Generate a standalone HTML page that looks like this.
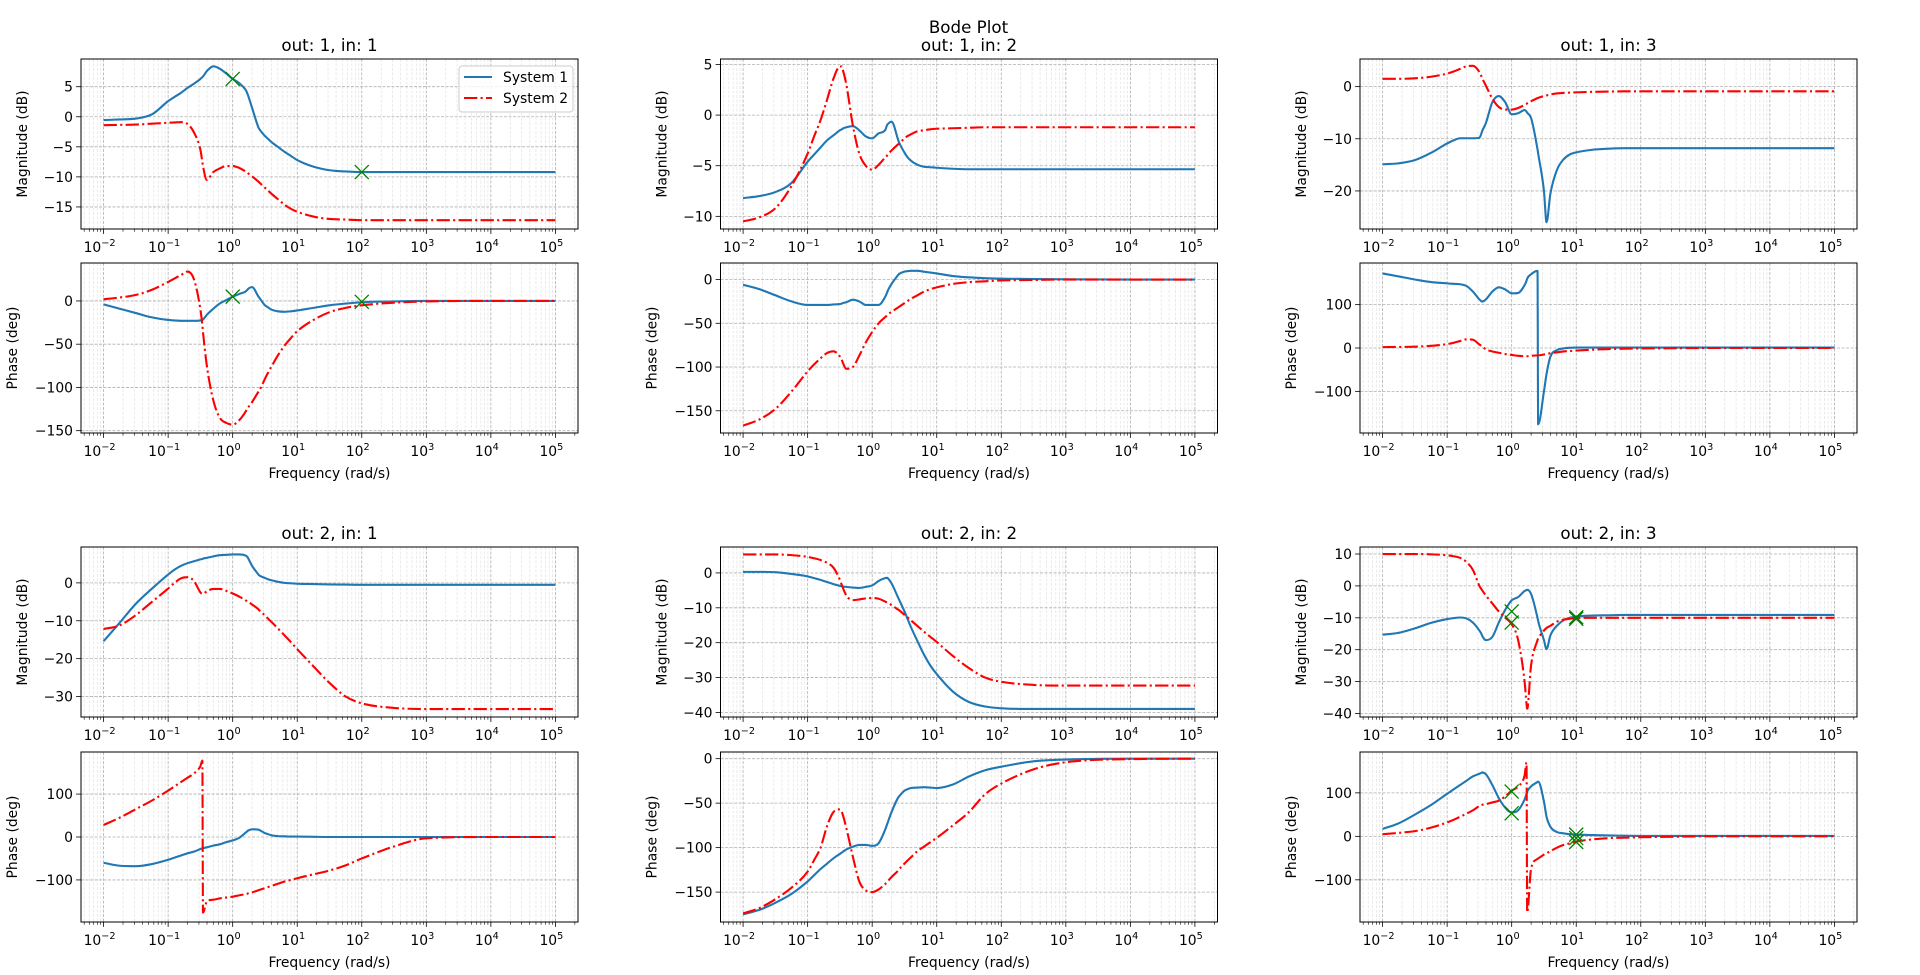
<!DOCTYPE html>
<html><head><meta charset="utf-8"><title>Bode Plot</title>
<style>html,body{margin:0;padding:0;background:#fff}svg{display:block;font-family:"DejaVu Sans","Liberation Sans",sans-serif}</style>
</head><body>
<svg id="fig" xmlns="http://www.w3.org/2000/svg" width="1920" height="975" viewBox="0 0 1920 975"></svg>
<script>
const LOGW=[-2,-1.75,-1.5,-1.25,-1,-0.9,-0.8,-0.7,-0.6,-0.5,-0.47,-0.46,-0.4,-0.3,-0.2,-0.1,0,0.1,0.2,0.23,0.24,0.3,0.4,0.41,0.5,0.54,0.6,0.7,0.8,0.9,1,1.25,1.5,1.75,2,2.5,3,4,5];
const XTICKS=[-2,-1,0,1,2,3,4,5];
const mag11b=[-0.55,-0.45,-0.3,0.4,2.6,3.3,4.0,4.8,5.5,6.3,6.6,6.7,7.6,8.4,8.0,7.2,6.3,5.6,4.5,3.8,3.5,1.5,-1.8,-2.0,-3.2,-3.6,-4.2,-5.0,-5.8,-6.5,-7.2,-8.3,-8.9,-9.1,-9.2,-9.2,-9.2,-9.2,-9.2];
const mag11r=[-1.4,-1.35,-1.3,-1.15,-1.0,-0.95,-0.9,-1.2,-2.6,-5.5,-7.5,-8.2,-10.5,-9.2,-8.6,-8.2,-8.2,-8.5,-9.1,-9.3,-9.4,-9.9,-10.8,-10.9,-11.8,-12.2,-12.8,-13.7,-14.6,-15.3,-15.8,-16.6,-17.0,-17.1,-17.2,-17.2,-17.2,-17.2,-17.2];
const ph11b=[-4,-9,-14,-19,-22,-22.5,-23,-23,-23,-22.5,-22,-21.5,-16,-9,-3,1,5,8,11,13,14,16,5,4,-5,-7,-10,-12,-12.5,-12,-11,-8,-5,-3,-1.5,-0.5,0,0,0];
const ph11r=[2,4,7,13,22,26,30,34,25,-10,-28,-36,-75,-115,-135,-141,-143,-138,-128,-124,-123,-117,-105,-104,-90,-84,-76,-63,-52,-43,-35,-22,-13,-8,-5,-2,-0.5,0,0];
const mag12b=[-8.2,-8.0,-7.6,-6.7,-4.6,-3.9,-3.2,-2.5,-2.0,-1.5,-1.4,-1.35,-1.2,-1.1,-1.5,-2.1,-2.3,-1.8,-1.5,-1.0,-0.9,-0.65,-2.4,-2.6,-3.7,-4.1,-4.5,-4.9,-5.1,-5.15,-5.2,-5.3,-5.35,-5.35,-5.35,-5.35,-5.35,-5.35,-5.35];
const mag12r=[-10.5,-10.1,-9.2,-7.0,-3.8,-2.1,-0.5,1.5,3.6,4.8,4.8,4.6,3.0,-1.0,-3.8,-5.0,-5.4,-4.9,-4.2,-4.0,-3.9,-3.5,-2.9,-2.85,-2.3,-2.1,-1.9,-1.6,-1.5,-1.4,-1.35,-1.3,-1.25,-1.2,-1.2,-1.2,-1.2,-1.2,-1.2];
const ph12b=[-6,-11,-18,-25,-29,-29,-29,-29,-28.5,-28,-27.5,-27,-26,-23,-25,-29,-29,-29,-20,-15,-13,-5,5,6,9,9.5,10,10,9,8,7,4,2.5,1.5,1,0.5,0.3,0,0];
const ph12r=[-167,-160,-148,-128,-105,-97,-90,-84,-82,-88,-92,-94,-102,-100,-87,-72,-60,-50,-43,-41,-40,-37,-32,-31.5,-27,-25,-22,-18,-14,-11,-9,-5,-3,-2,-1,-0.5,0,0,0];
const mag13b=[-14.9,-14.7,-14.1,-12.7,-10.9,-10.3,-9.9,-9.9,-9.9,-9.8,-9.0,-8.6,-7,-3,-1.8,-3,-5.3,-5.1,-4.5,-4.8,-5,-6,-12,-12.8,-20,-26,-20.5,-16,-14,-13,-12.6,-12.1,-11.9,-11.8,-11.8,-11.8,-11.8,-11.8,-11.8];
const mag13r=[1.5,1.5,1.6,1.9,2.5,2.9,3.4,3.9,4.0,2.8,2.0,1.7,0.2,-2.3,-3.9,-4.4,-4.4,-4.1,-3.5,-3.3,-3.2,-2.8,-2.2,-2.15,-1.8,-1.7,-1.5,-1.3,-1.2,-1.15,-1.1,-1.0,-0.95,-0.9,-0.9,-0.9,-0.9,-0.9,-0.9];
const ph13b=[172,165,158,152,149,148,147,143,130,112,108,107,112,130,140,135,126,127,145,155,160,170,178,-176,-100,-60,-20,-5,-1,0.5,1,1,1,1,1,1,1,1,1];
const ph13r=[2,2.5,3,5,9,12,16,20,19,8,5,4,-3,-8,-11,-14,-16,-18,-19,-19,-19,-18,-17,-17,-15,-14,-12,-10,-8,-7,-6,-4,-2.5,-1.5,-1,-0.5,0,0,0];
const mag21b=[-15.4,-10.5,-5.5,-1.5,2.2,3.5,4.5,5.2,5.7,6.2,6.3,6.4,6.6,7.0,7.3,7.4,7.5,7.5,7.2,6.8,6.5,4.5,2.2,2.0,1.3,1.0,0.7,0.3,0.0,-0.1,-0.2,-0.3,-0.4,-0.45,-0.5,-0.5,-0.5,-0.5,-0.5];
const mag21r=[-12.2,-11.2,-8.5,-5,-1.5,0,1.2,1.5,0.5,-2.5,-2.9,-2.9,-2.2,-1.6,-1.6,-2.1,-2.8,-3.6,-4.6,-4.9,-5.0,-5.7,-7.0,-7.2,-8.6,-9.3,-10.3,-12,-13.8,-15.6,-17.5,-22,-26.4,-30,-31.8,-33,-33.3,-33.3,-33.3];
const ph21b=[-60,-67,-68,-63,-53,-48,-43,-38,-34,-28,-26.5,-26,-24,-20,-17,-12,-8,-2,10,14,15,18,17,16.5,9,7,4,2,1.5,1,1,0.5,0,0,0,0,0,0,0];
const ph21r=[28,45,65,85,108,118,128,138,148,165,178,-176,-150,-146,-143,-141,-139,-136,-133,-132,-131,-129,-124,-123.5,-119,-117,-114,-109,-104,-100,-96,-87,-78,-66,-50,-22,-3,0,0];
const mag22b=[0.3,0.3,0.2,-0.3,-1,-1.5,-2,-2.6,-3.2,-3.7,-3.8,-3.85,-4,-4.2,-4.3,-4.0,-3.6,-2.3,-1.5,-1.4,-1.5,-3,-7,-7.4,-11,-12.8,-15.5,-19.5,-23.3,-26.5,-29,-34,-37,-38.3,-38.8,-39,-39,-39,-39];
const mag22r=[5.3,5.3,5.3,5.1,4.6,4.2,3.7,2.9,1.5,-2,-3.5,-4,-6.5,-7.8,-7.6,-7.3,-7.2,-7.4,-8.2,-8.5,-8.6,-9.2,-10.5,-10.6,-12,-12.6,-13.6,-15.2,-16.8,-18.3,-19.8,-23.8,-27.3,-30,-31.2,-32.1,-32.3,-32.3,-32.3];
const ph22b=[-175,-170,-162,-152,-138,-131,-124,-118,-112,-107,-105.5,-105,-102,-99,-97,-97,-98,-95,-80,-74,-72,-60,-44,-43,-36,-34.5,-33,-32.5,-32,-32.5,-33,-29,-20,-13,-9,-3,-1,0,0];
const ph22r=[-174,-168,-158,-145,-127,-114,-100,-76,-60,-57,-60,-62,-78,-110,-138,-148,-150,-147,-141,-139,-138,-133,-126,-125,-118,-115,-111,-104,-99,-94,-89,-75,-60,-40,-28,-12,-4,-0.5,0];
const mag23b=[-15.3,-14.7,-13.3,-11.6,-10.4,-10.1,-9.9,-10.2,-11.5,-14,-15,-15.5,-17,-16,-11.5,-7.5,-4.5,-3.5,-1.6,-1.3,-1.2,-2.5,-10,-11,-17,-19.8,-15.5,-12.5,-10.8,-10,-9.6,-9.3,-9.2,-9.1,-9.1,-9.1,-9.1,-9.1,-9.1];
const mag23r=[10,10,10,9.9,9.6,9.3,8.8,7.5,5,0,-1,-1.3,-3,-5.5,-8,-10,-12,-17,-30,-37,-38.5,-25,-17,-16.5,-14,-13.2,-12.5,-11.2,-10.6,-10.3,-10.1,-10,-10,-10,-10,-10,-10,-10,-10];
const ph23b=[17,30,50,72,98,108,118,128,138,144,146,147,143,118,88,66,55,60,85,98,103,115,125,126,80,45,22,10,7,5,4,3,2,1.5,1,1,1,1,1];
const ph23r=[5,8,12,20,32,38,45,52,60,70,72,72.5,74,78,82,92,105,115,140,170,-175,-75,-52,-51,-42,-39,-34,-26,-20,-16,-12,-7,-4,-3,-2,-1,0,0,0];
const mk11x=[0,2], mk11m=[6.3,-9.2], mk11p=[5,-1];
const mk23mx=[0,0,1,1], mk23m=[-8,-11.5,-9.8,-10.3];
const mk23px=[0,0,1,1,1], mk23p=[103,53,4,-4,-13];
const YT_mag11=[-15,-10,-5,0,5], YT_ph11=[-150,-100,-50,0];
const YT_mag12=[-10,-5,0,5], YT_ph12=[-150,-100,-50,0];
const YT_mag13=[-20,-10,0], YT_ph13=[-100,0,100];
const YT_mag21=[-30,-20,-10,0], YT_ph21=[-100,0,100];
const YT_mag22=[-40,-30,-20,-10,0], YT_ph22=[-150,-100,-50,0];
const YT_mag23=[-40,-30,-20,-10,0,10], YT_ph23=[-100,0,100];

const NS="http://www.w3.org/2000/svg";
const svg=document.getElementById('fig');
function mk(tag,attrs,parent){const e=document.createElementNS(NS,tag);for(const k in attrs)e.setAttribute(k,attrs[k]);(parent||svg).appendChild(e);return e;}
const COLX=[81,720.5,1360], ROWY=[59,263,547,752], AW=497, AH=170;
const XMIN=-2.35, XMAX=5.35;
function fmt(v){return v<0?'\u2212'+(-v):''+v;}
// monotone cubic (Fritsch-Carlson) path through pixel points
function smoothPath(xs,ys){
  const n=xs.length, d=[], m=new Array(n);
  for(let i=0;i<n-1;i++)d.push((ys[i+1]-ys[i])/(xs[i+1]-xs[i]));
  m[0]=d[0];m[n-1]=d[n-2];
  for(let i=1;i<n-1;i++){m[i]=(d[i-1]*d[i]<=0)?0:(d[i-1]+d[i])/2;}
  for(let i=0;i<n-1;i++){
    if(d[i]===0){m[i]=0;m[i+1]=0;continue;}
    const a=m[i]/d[i],b=m[i+1]/d[i],s=a*a+b*b;
    if(s>9){const t=3/Math.sqrt(s);m[i]=t*a*d[i];m[i+1]=t*b*d[i];}
  }
  let p='M'+xs[0].toFixed(2)+','+ys[0].toFixed(2);
  for(let i=0;i<n-1;i++){const h=(xs[i+1]-xs[i])/3;
    p+='C'+(xs[i]+h).toFixed(2)+','+(ys[i]+m[i]*h).toFixed(2)+' '+(xs[i+1]-h).toFixed(2)+','+(ys[i+1]-m[i+1]*h).toFixed(2)+' '+xs[i+1].toFixed(2)+','+ys[i+1].toFixed(2);}
  return p;
}
let clipId=0;
function panel(col,row,ylim,yticks,blue,red,title,ylabel,isPhase,mx,my,showX){
  const x0=COLX[col], y0=ROWY[row];
  const g=mk('g',{});
  
  
  const sx=v=>x0+(v-XMIN)/(XMAX-XMIN)*AW;
  const sy=v=>y0+AH-(v-ylim[0])/(ylim[1]-ylim[0])*AH;
  const id='c'+(clipId++);
  const cp=mk('clipPath',{id:id},g);mk('rect',{x:x0,y:y0,width:AW,height:AH},cp);
  for(let d=-3;d<=5;d++)for(let m=2;m<=9;m++){const lv=d+Math.log10(m);if(lv<XMIN||lv>XMAX)continue;const X=sx(lv);
    const l=mk('line',{x1:X,x2:X,y1:y0,y2:y0+AH,stroke:'#e6e6e6','stroke-width':0.8,'stroke-dasharray':'3,1.5'},g);
    
    const t=mk('line',{x1:X,x2:X,y1:y0+AH,y2:y0+AH+2.8,stroke:'#000','stroke-width':0.6},g);
    }
  XTICKS.forEach(d=>{const X=sx(d);
    const l=mk('line',{x1:X,x2:X,y1:y0,y2:y0+AH,stroke:'#b0b0b0','stroke-width':0.8,'stroke-dasharray':'3,1.5'},g);
    
    const t=mk('line',{x1:X,x2:X,y1:y0+AH,y2:y0+AH+4.9,stroke:'#000','stroke-width':0.8},g);
    
    const tx=mk('text',{x:X-4,y:y0+AH+23,'font-size':13.9,'text-anchor':'middle',fill:'#000'},g);
    
    tx.appendChild(document.createTextNode('10'));
    const sp=mk('tspan',{dy:-6,'font-size':9.7},tx);sp.textContent=fmt(d);
  });
  yticks.forEach(v=>{const Y=sy(v);
    const l=mk('line',{x1:x0,x2:x0+AW,y1:Y,y2:Y,stroke:'#b0b0b0','stroke-width':0.8,'stroke-dasharray':'3,1.5'},g);
    
    const t=mk('line',{x1:x0-4.9,x2:x0,y1:Y,y2:Y,stroke:'#000','stroke-width':0.8},g);
    
    const tx=mk('text',{x:x0-8,y:Y+5,'font-size':13.9,'text-anchor':'end',fill:'#000'},g);
    
    tx.textContent=fmt(v);
  });
  const pg=mk('g',{'clip-path':'url(#'+id+')'},g);
  const path=arr=>smoothPath(LOGW.map(sx),arr.map(sy));
  const pb=mk('path',{d:path(blue),fill:'none',stroke:'#1f77b4','stroke-width':2.1,'stroke-linejoin':'round'},pg);
  
  const pr=mk('path',{d:path(red),fill:'none',stroke:'#ff0000','stroke-width':2.1,'stroke-dasharray':'13.3,3.3,2.1,3.3'},pg);
  
  if(mx){mx.forEach((lx,i)=>{const X=sx(lx),Y=sy(my[i]);
    const m=mk('path',{d:`M${X-7},${Y-7}L${X+7},${Y+7}M${X-7},${Y+7}L${X+7},${Y-7}`,stroke:'#008000','stroke-width':1.3,fill:'none'},g);
    });}
  const fr=mk('rect',{x:x0,y:y0,width:AW,height:AH,fill:'none',stroke:'#000','stroke-width':1},g);
  
  if(title){const t=mk('text',{x:x0+AW/2,y:y0-8,'font-size':16.7,'text-anchor':'middle',fill:'#000'},g);
    t.textContent=title;}
  const yl=isPhase?(x0-64):(x0-54);
  const lab=mk('text',{x:0,y:0,'font-size':13.9,'text-anchor':'middle',fill:'#000',transform:`translate(${yl},${y0+AH/2}) rotate(-90)`},g);
  lab.textContent=ylabel;
  if(showX){const t=mk('text',{x:x0+AW/2,y:y0+AH+45,'font-size':13.9,'text-anchor':'middle',fill:'#000'},g);
    t.textContent='Frequency (rad/s)';}
}
const M='Magnitude (dB)', P='Phase (deg)';
panel(0,0,[-18.67,9.61],YT_mag11,mag11b,mag11r,'out: 1, in: 1',M,false,mk11x,mk11m,false);
panel(0,1,[-152.7,43.9],YT_ph11,ph11b,ph11r,null,P,true,mk11x,mk11p,true);
panel(1,0,[-11.25,5.54],YT_mag12,mag12b,mag12r,'out: 1, in: 2',M,false,null,null,false);
panel(1,1,[-175.4,18.9],YT_ph12,ph12b,ph12r,null,P,true,null,null,true);
panel(2,0,[-27.3,5.3],YT_mag13,mag13b,mag13r,'out: 1, in: 3',M,false,null,null,false);
panel(2,1,[-196,196],YT_ph13,ph13b,ph13r,null,P,true,null,null,true);
panel(0,2,[-35.4,9.47],YT_mag21,mag21b,mag21r,'out: 2, in: 1',M,false,null,null,false);
panel(0,3,[-198,198],YT_ph21,ph21b,ph21r,null,P,true,null,null,true);
panel(1,2,[-41.3,7.43],YT_mag22,mag22b,mag22r,'out: 2, in: 2',M,false,null,null,false);
panel(1,3,[-183.6,7.5],YT_ph22,ph22b,ph22r,null,P,true,null,null,true);
panel(2,2,[-41.1,12.2],YT_mag23,mag23b,mag23r,'out: 2, in: 3',M,false,mk23mx,mk23m,false);
panel(2,3,[-197,194],YT_ph23,ph23b,ph23r,null,P,true,mk23px,mk23p,true);
const st=mk('text',{x:968.5,y:33,'font-size':16.7,'text-anchor':'middle',fill:'#000'});
st.textContent='Bode Plot';
const lg=mk('g',{});

const lb=mk('rect',{x:459,y:66,width:114,height:46,rx:3,fill:'#fff','fill-opacity':0.8,stroke:'#cccccc','stroke-width':1},lg);

const l1=mk('line',{x1:464,x2:492,y1:77,y2:77,stroke:'#1f77b4','stroke-width':2.1},lg);

const t1=mk('text',{x:503,y:82,'font-size':13.9,fill:'#000'},lg);
t1.textContent='System 1';
const l2=mk('line',{x1:464,x2:492,y1:98,y2:98,stroke:'#ff0000','stroke-width':2.1,'stroke-dasharray':'13.3,3.3,2.1,3.3'},lg);

const t2=mk('text',{x:503,y:103,'font-size':13.9,fill:'#000'},lg);
t2.textContent='System 2';
</script>
</body></html>
